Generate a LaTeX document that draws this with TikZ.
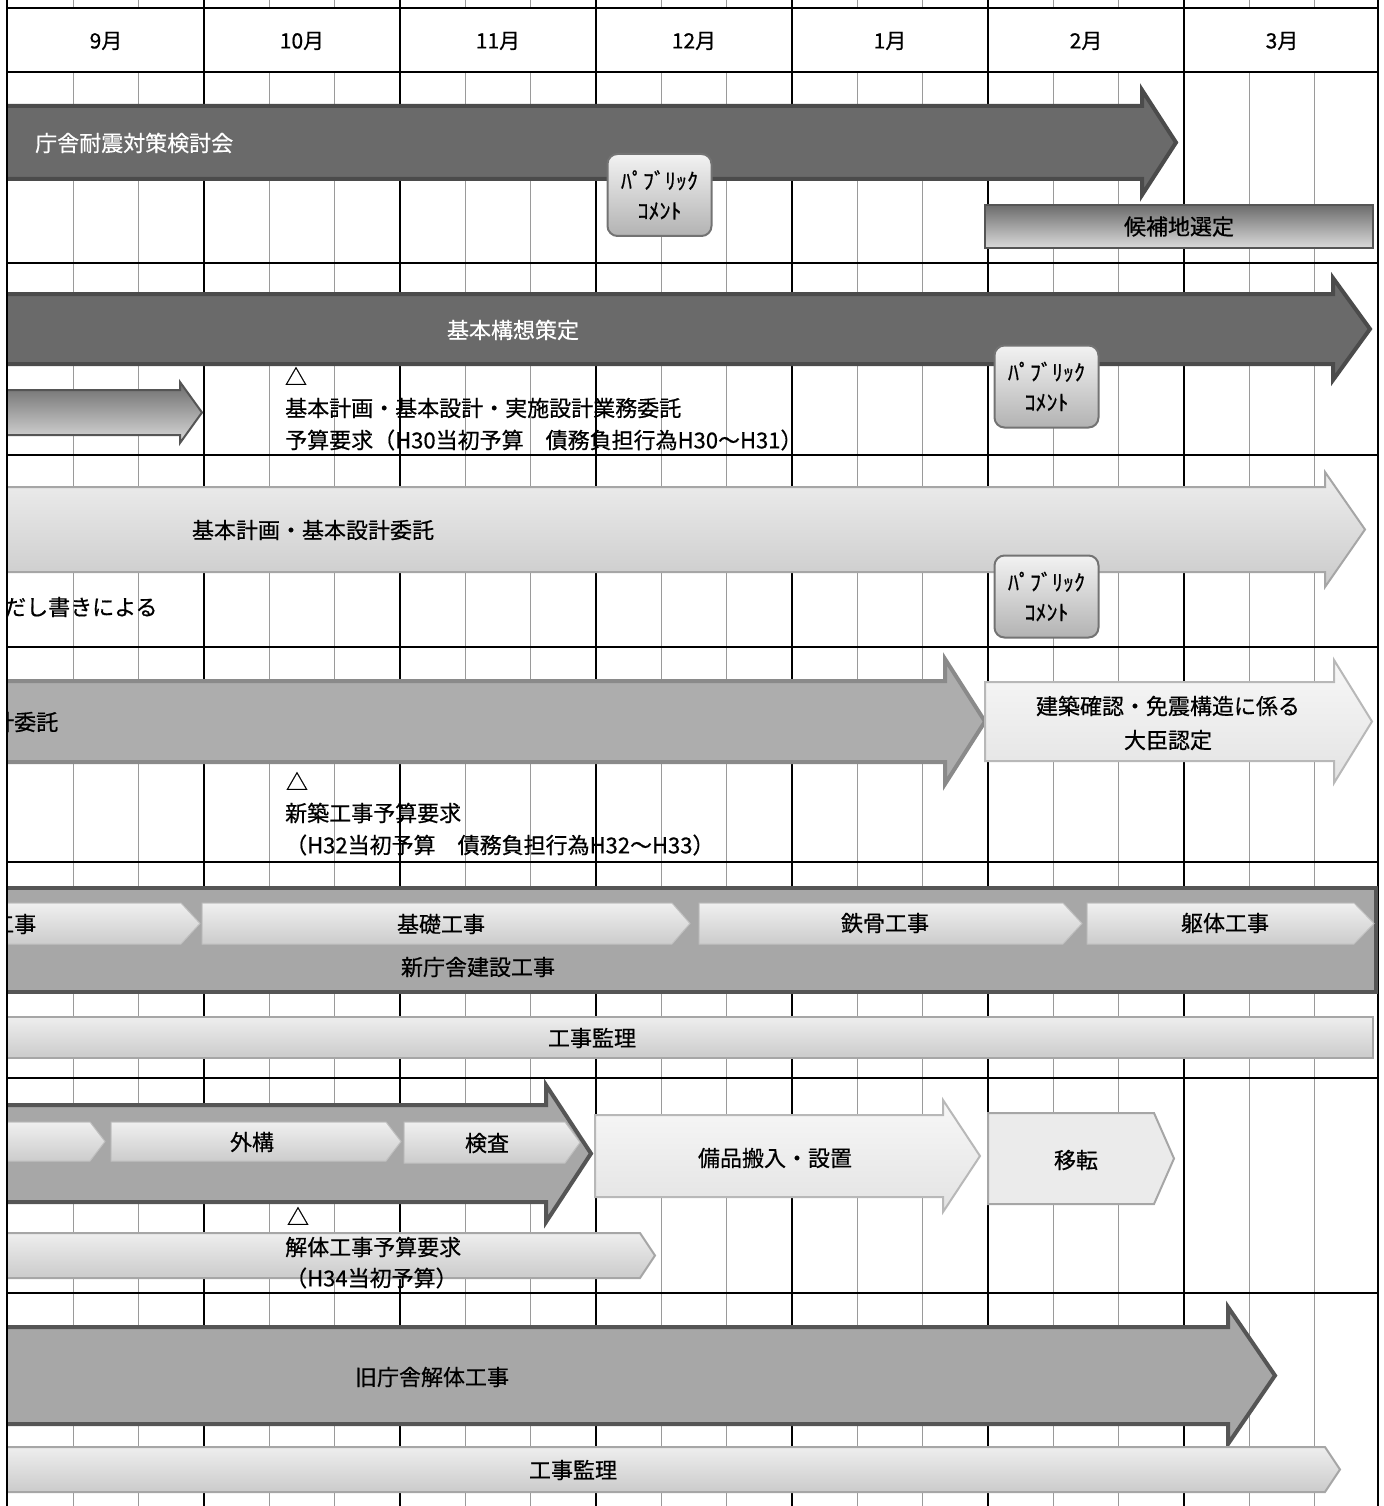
\documentclass[tikz,border=0pt]{standalone}
\usepackage{fontspec}
\setmainfont{Noto Sans CJK JP}[FakeBold=0.6]
\usepackage{xcolor}
\usepackage{tikz}
\usetikzlibrary{calc}

\definecolor{bardark}{HTML}{6A6A6A}
\definecolor{bardarkedge}{HTML}{4B4B4B}
\definecolor{barmid}{HTML}{A7A7A7}
\definecolor{barmidedge}{HTML}{555555}
\definecolor{barsoft}{HTML}{ADADAD}
\definecolor{barsoftedge}{HTML}{8A8A8A}
\definecolor{lighttop}{HTML}{EEEEEE}
\definecolor{lightlow}{HTML}{CBCBCB}
\definecolor{lightedge}{HTML}{A6A6A6}
\definecolor{steeltop}{HTML}{6C6C6C}
\definecolor{steellow}{HTML}{DADADA}
\definecolor{weekgray}{HTML}{9A9A9A}

\begin{document}
\begin{tikzpicture} [
    x=1pt, y=-1pt,
    every node/.style = {font=\fontsize{22}{30}\selectfont, inner sep=0pt},
    monthline/.style = {line width=2pt, black},
    weekline/.style = {line width=1.5pt, weekgray},
    darkbar/.style = {fill=bardark, draw=bardarkedge, line width=4pt},
    midbar/.style = {fill=barmid, draw=barmidedge, line width=4pt},
    softbar/.style = {fill=barsoft, draw=barsoftedge, line width=4pt},
    lightbar/.style = {top color=lighttop, bottom color=lightlow, draw=lightedge, line width=2pt},
    palebar/.style = {top color=white!97!black, bottom color=white!89!black, draw=lightedge!80, line width=2pt},
    flatbar/.style = {fill=white!92!black, draw=lightedge, line width=2pt},
    chevron/.style = {top color=white!94!black, bottom color=white!80!black, draw=white!75!black, line width=1pt},
    steelbar/.style = {top color=steeltop, bottom color=steellow, draw=barmidedge, line width=2pt},
    pcbox/.style = {rounded corners=10pt, top color=white!95!black, bottom color=white!70!black,
        draw=black!55, line width=2pt, minimum width=104pt, minimum height=82pt, align=center},
    whitetext/.style = {text=white}
]
    \useasboundingbox (0,0) rectangle (1383,1506);

    % grid
    \foreach \m [count=\i from 0] in {9,10,11,12,1,2,3}
        \node[font=\fontsize{21}{24}\selectfont] (m\m) at (106+196*\i,41) {\m 月};
    \foreach \i in {0,...,6}
        \foreach \j in {1,2} {
            \draw[weekline] ({8+196*\i+65.33*\j},0) -- ++(0,8);
            \draw[weekline] ({8+196*\i+65.33*\j},72) -- ++(0,1434);
        }
    \foreach \i in {1,...,6}
        \draw[monthline] (8+196*\i,0) -- ++(0,1506);
    \foreach \y in {8,72,263,455,647,862,1078,1293}
        \draw[monthline] (7,\y) -- (1378,\y);
    \draw[monthline] (1378,0) -- (1378,1506);

    \begin{scope}
    \clip (7,0) rectangle (1383,1506);

    % 検討会
    \path[darkbar] (-10,106) -- (1142,106) -- (1142,90) -- (1176,142.5) -- (1142,195) -- (1142,179) -- (-10,179) -- cycle;
    \node[whitetext, anchor=west] (kentokai) at (35,143) {庁舎耐震対策検討会};
    \node[pcbox] (pc1) at (659.5,195) {ﾊﾟﾌﾞﾘｯｸ\\ｺﾒﾝﾄ};
    \node[steelbar, minimum width=388pt, minimum height=43pt] (kohochi) at (1179,226.5) {候補地選定};

    % 基本構想
    \path[darkbar] (-10,294) -- (1333,294) -- (1333,278) -- (1370,329) -- (1333,380) -- (1333,364) -- (-10,364) -- cycle;
    \node[whitetext] (koso) at (513,330) {基本構想策定};
    \path[steelbar] (-10,390) -- (180,390) -- (180,382) -- (202,412.5) -- (180,443) -- (180,435) -- (-10,435) -- cycle;
    \node (mark1) at (296,376) {△};
    \node[anchor=west] (yosan1a) at (285,408) {基本計画・基本設計・実施設計業務委託};
    \node[anchor=west] (yosan1b) at (285,440) {予算要求（H30当初予算　債務負担行為H30～H31）};
    \node[pcbox] (pc2) at (1046.5,386.5) {ﾊﾟﾌﾞﾘｯｸ\\ｺﾒﾝﾄ};

    % 基本計画・基本設計
    \path[lightbar] (-10,487) -- (1325,487) -- (1325,472) -- (1365,529.5) -- (1325,587) -- (1325,572) -- (-10,572) -- cycle;
    \node (kihon) at (313,530) {基本計画・基本設計委託};
    \node[pcbox] (pc3) at (1046.5,596.5) {ﾊﾟﾌﾞﾘｯｸ\\ｺﾒﾝﾄ};
    \node[anchor=west] (tadashi) at (4,607) {だし書きによる};

    % 実施設計
    \path[softbar] (-10,681) -- (945,681) -- (945,659) -- (985,721.5) -- (945,784) -- (945,762) -- (-10,762) -- cycle;
    \node[anchor=west] (itaku) at (-8,722) {計委託};
    \path[palebar] (985,682) -- (1334,682) -- (1334,660) -- (1372,721.5) -- (1334,783) -- (1334,761) -- (985,761) -- cycle;
    \node[align=center, font=\fontsize{22}{34}\selectfont] (nintei) at (1168,723) {建築確認・免震構造に係る\\大臣認定};
    \node (mark2) at (297,781) {△};
    \node[anchor=west] (yosan2a) at (285,813) {新築工事予算要求};
    \node[anchor=west] (yosan2b) at (285,845) {（H32当初予算　債務負担行為H32～H33）};

    % 新庁舎建設工事
    \path[midbar] (-10,888) rectangle (1376,992);
    \path[chevron] (-10,903) -- (181,903) -- (200,923.5) -- (181,944) -- (-10,944) -- cycle;
    \path[chevron] (202,903) -- (672,903) -- (690,923.5) -- (672,944) -- (202,944) -- cycle;
    \path[chevron] (699,903) -- (1063,903) -- (1082,923.5) -- (1063,944) -- (699,944) -- cycle;
    \path[chevron] (1087,903) -- (1354,903) -- (1374,923.5) -- (1354,944) -- (1087,944) -- cycle;
    \node[anchor=west] (koji0) at (-8,924) {工事};
    \node (kiso) at (441,924) {基礎工事};
    \node (tekkotsu) at (885,923) {鉄骨工事};
    \node (kutai) at (1225,923) {躯体工事};
    \node (shinchosha) at (478,967) {新庁舎建設工事};
    \path[lightbar] (-10,1017) rectangle (1373,1058);
    \node (kanri1) at (592,1038) {工事監理};

    % 外構・検査・移転
    \path[midbar] (-10,1105) -- (546,1105) -- (546,1085) -- (591,1153.5) -- (546,1222) -- (546,1202) -- (-10,1202) -- cycle;
    \path[chevron] (-10,1122) -- (90,1122) -- (105,1141.5) -- (90,1161) -- (-10,1161) -- cycle;
    \path[chevron] (111,1122) -- (386,1122) -- (401,1141.5) -- (386,1161) -- (111,1161) -- cycle;
    \path[chevron] (404,1122) -- (565,1122) -- (580,1142.5) -- (565,1163) -- (404,1163) -- cycle;
    \node (gaiko) at (252,1142) {外構};
    \node (kensa) at (487,1143) {検査};
    \path[palebar] (595,1115) -- (943,1115) -- (943,1100) -- (980,1156) -- (943,1212) -- (943,1197) -- (595,1197) -- cycle;
    \node (bihin) at (775,1158) {備品搬入・設置};
    \path[flatbar] (988,1113) -- (1154,1113) -- (1174,1158.5) -- (1154,1204) -- (988,1204) -- cycle;
    \node (iten) at (1076,1160) {移転};
    \path[lightbar] (-10,1233) -- (640,1233) -- (655,1255.5) -- (640,1278) -- (-10,1278) -- cycle;
    \node (mark3) at (298,1216) {△};
    \node[anchor=west] (yosan3a) at (285,1247) {解体工事予算要求};
    \node[anchor=west] (yosan3b) at (285,1278) {（H34当初予算）};

    % 旧庁舎解体
    \path[midbar] (-10,1327) -- (1228,1327) -- (1228,1307) -- (1275,1375.5) -- (1228,1444) -- (1228,1424) -- (-10,1424) -- cycle;
    \node (kyuchosha) at (432,1377) {旧庁舎解体工事};
    \path[lightbar] (-10,1447) -- (1325,1447) -- (1340,1469.5) -- (1325,1492) -- (-10,1492) -- cycle;
    \node (kanri2) at (573,1470) {工事監理};
    \end{scope}

    \draw[monthline] (7,0) -- (7,1506);
\end{tikzpicture}
\end{document}
